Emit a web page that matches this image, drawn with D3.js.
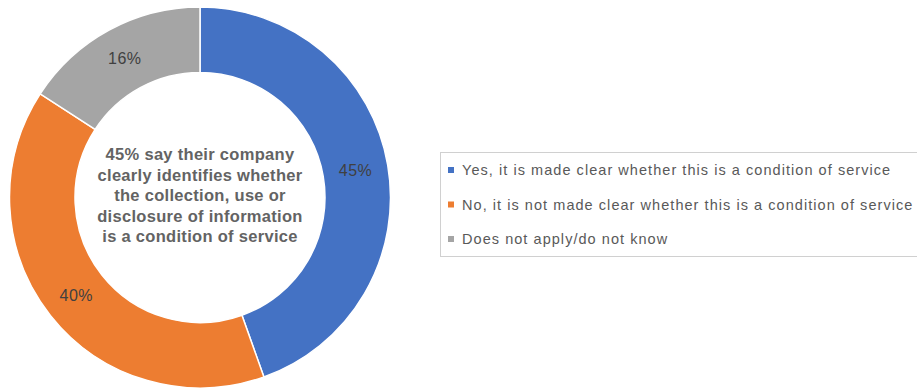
<!DOCTYPE html>
<html>
<head>
<meta charset="utf-8">
<script src="https://cdn.jsdelivr.net/npm/d3@7"></script>
<style>
  html, body { margin: 0; padding: 0; background: #fff; }
  svg { display: block; font-family: "Liberation Sans", Arial, sans-serif; }
</style>
</head>
<body>
<svg id="chart" width="917" height="389"></svg>
<script>
// Survey answers and their shares (percent)
const categories = [
  "Yes, it is made clear whether this is a condition of service",
  "No, it is not made clear whether this is a condition of service",
  "Does not apply/do not know"
];
const values = [45, 40, 16];
const colors = ["#4472C4", "#ED7D31", "#A5A5A5"];
const centerLines = [
  "45% say their company",
  "clearly identifies whether",
  "the collection, use or",
  "disclosure of information",
  "is a condition of service"
];

const svg = d3.select("#chart");
const cx = 200, cy = 197.5;
const outerR = 190.5, innerR = 125;

const pie = d3.pie().sort(null).value(d => d.value);
const arcs = pie(categories.map((c, i) => ({ name: c, value: values[i], color: colors[i] })));
const arc = d3.arc().innerRadius(innerR).outerRadius(outerR);
const labelArc = d3.arc().innerRadius((innerR + outerR) / 2).outerRadius((innerR + outerR) / 2);

const g = svg.append("g").attr("transform", `translate(${cx},${cy})`);

g.selectAll("path.slice")
  .data(arcs)
  .join("path")
  .attr("class", "slice")
  .attr("d", arc)
  .attr("fill", d => d.data.color)
  .attr("stroke", "#fff")
  .attr("stroke-width", 1.5);

g.selectAll("text.pct")
  .data(arcs)
  .join("text")
  .attr("class", "pct")
  .attr("transform", d => `translate(${labelArc.centroid(d)})`)
  .attr("text-anchor", "middle")
  .attr("dy", "0.35em")
  .attr("font-size", 16)
  .attr("letter-spacing", 0.4)
  .attr("fill", "#404040")
  .text(d => d.data.value + "%");

// Caption in the hole of the ring
const lineH = 20.5;
g.append("text")
  .attr("text-anchor", "middle")
  .attr("font-size", 16.5)
  .attr("letter-spacing", 0.3)
  .attr("font-weight", "bold")
  .attr("fill", "#636363")
  .selectAll("tspan")
  .data(centerLines)
  .join("tspan")
  .attr("x", 0)
  .attr("y", (d, i) => (i - 2) * lineH - 2)
  .attr("dy", "0.35em")
  .text(d => d);

// Legend
const legend = svg.append("g");
legend.append("rect")
  .attr("x", 440.5).attr("y", 152.5)
  .attr("width", 490).attr("height", 104)
  .attr("fill", "#fff")
  .attr("stroke", "#d0d0d0")
  .attr("stroke-width", 1);

const rowY = d3.scalePoint().domain(categories).range([170, 239]);
const items = legend.selectAll("g.item")
  .data(arcs)
  .join("g")
  .attr("class", "item")
  .attr("transform", d => `translate(448,${rowY(d.data.name)})`);

items.append("rect")
  .attr("x", 0).attr("y", -3)
  .attr("width", 6).attr("height", 6)
  .attr("fill", d => d.data.color);

items.append("text")
  .attr("x", 14)
  .attr("dy", "0.35em")
  .attr("font-size", 14.5)
  .attr("letter-spacing", 1.05)
  .attr("fill", "#595959")
  .text(d => d.data.name);
</script>
</body>
</html>
